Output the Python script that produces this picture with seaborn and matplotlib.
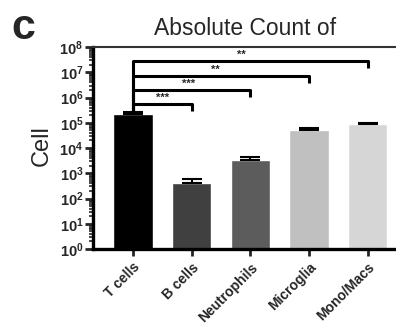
import numpy as np
import matplotlib
matplotlib.use('Agg')
import matplotlib.pyplot as plt
import matplotlib.ticker as mticker
import seaborn as sns

# data
cells = ['T cells', 'B cells', 'Neutrophils', 'Microglia', 'Mono/Macs']
counts = [2.3e5, 4.1e2, 3.3e3, 5.3e4, 8.9e4]
upper_err = [0.4e5, 2.0e2, 1.2e3, 1.0e4, 0.9e4]
bar_colors = ['#000000', '#404040', '#5c5c5c', '#c0c0c0', '#d6d6d6']

# significance brackets: (from, to, height, stars)
brackets = [(0, 1, 5.5e5, '***'),
            (0, 2, 2.0e6, '***'),
            (0, 3, 7.0e6, '**'),
            (0, 4, 2.8e7, '**')]
drop_to = [3.0e5, 1.1e6, 3.9e6, 1.5e7]


def plot():
    sns.set_style('white')
    plt.rcParams['font.family'] = ['Liberation Sans', 'DejaVu Sans']
    plt.rcParams['mathtext.fontset'] = 'custom'
    plt.rcParams['mathtext.rm'] = 'Liberation Sans'
    plt.rcParams['mathtext.bf'] = 'Liberation Sans:bold'

    fig = plt.figure(figsize=(3.96, 3.32), dpi=100)
    ax = fig.add_axes([0.235, 0.25, 0.80, 0.608])
    ax.set_yscale('log')
    sns.barplot(x=cells, y=counts, hue=cells, palette=bar_colors,
                legend=False, width=0.67, saturation=1, errorbar=None,
                ax=ax)
    xs = np.arange(len(cells))
    ax.errorbar(xs, counts, yerr=[np.zeros(len(cells)), upper_err],
                fmt='none', ecolor='black', elinewidth=1.5, capsize=7,
                capthick=1.5)

    for (a, b, h, s), d in zip(brackets, drop_to):
        ax.plot([a, a, b, b], [counts[0] * 1.1, h, h, d],
                color='black', lw=2.2, solid_capstyle='butt')
        ax.text((a + b) / 2 - 0.05 * (b - 1), h * 1.1, s, ha='center',
                va='bottom', fontsize=8, fontweight='bold')

    ax.set_ylim(1, 1e8)
    ax.set_xlim(-0.68, 4.72)
    ax.yaxis.set_major_locator(mticker.LogLocator(base=10, numticks=20))
    ax.yaxis.set_minor_locator(mticker.LogLocator(base=10,
                                                  subs=np.arange(2, 10),
                                                  numticks=20))
    ax.yaxis.set_minor_formatter(mticker.NullFormatter())
    ax.yaxis.set_major_formatter(mticker.FuncFormatter(
        lambda v, p: r'$\mathbf{10^{%d}}$' % round(np.log10(v))))
    ax.tick_params(axis='y', which='major', length=6, width=2,
                   labelsize=10.5, pad=1, left=True)
    ax.tick_params(axis='y', which='minor', length=3, width=1.2, left=True)
    ax.tick_params(axis='x', length=5, width=2, bottom=True, pad=3)
    ax.set_xticks(xs)
    ax.set_xticklabels(cells, rotation=45, ha='right',
                       rotation_mode='anchor', fontsize=10,
                       fontweight='bold')

    for side in ['left', 'bottom']:
        ax.spines[side].set_linewidth(2.4)
        ax.spines[side].set_color('black')
    ax.spines['top'].set_linewidth(1.5)
    ax.spines['top'].set_color('#333333')
    ax.spines['right'].set_visible(False)

    fig.text(0.105, 0.563, 'Cell', rotation=90, ha='center', va='center',
             fontsize=17)
    fig.text(0.62, 0.915, 'Absolute Count of', ha='center', va='center',
             fontsize=16.5)
    fig.text(0.06, 0.915, 'c', ha='center', va='center', fontsize=31,
             fontweight='bold')

    fig.savefig('out.png', dpi=100)


def main():
    plot()


if __name__ == '__main__':
    main()
